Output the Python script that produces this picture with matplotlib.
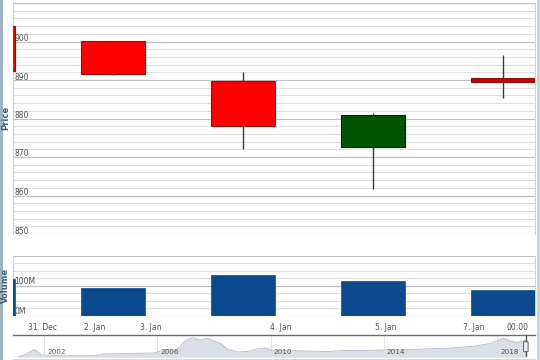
import matplotlib
matplotlib.use("Agg")
import matplotlib.pyplot as plt
from matplotlib.patches import Rectangle, FancyBboxPatch
from matplotlib.transforms import blended_transform_factory, offset_copy
import numpy as np

# ---------------- data ----------------
candle_idx = [0, 1, 2, 3, 4]
opens  = [903.9, 900.0, 889.7, 872.5, 890.5]
highs  = [903.9, 900.0, 892.0, 881.5, 896.6]
lows   = [892.3, 891.3, 872.0, 861.8, 885.2]
closes = [892.3, 891.6, 878.1, 880.8, 889.6]
volumes_m = [123, 92, 135, 117, 86.5]

x_tick_pos = [0.458, 0.862, 1.292, 2.292, 3.10, 3.773, 4.108]
x_tick_labels = ["31. Dec", "2. Jan", "3. Jan", "4. Jan", "5. Jan", "7. Jan", "00:00"]

price_ticks = [850, 860, 870, 880, 890, 900]
volume_ticks = [0, 100]
volume_tick_labels = ["0M", "100M"]

nav_years = [2000.90, 2001.05, 2001.35, 2001.66, 2001.90, 2002.27, 2003.0, 2003.86, 2004.10,
             2005.0, 2005.93, 2006.29, 2006.66, 2007.02, 2007.27, 2007.51, 2007.76,
             2008.00, 2008.24, 2008.49, 2008.85, 2009.22, 2009.46, 2009.83, 2010.07,
             2010.80, 2011.4, 2012.02, 2012.6, 2013.24, 2013.8, 2014.46, 2015.1, 2015.68,
             2016.3, 2016.89, 2017.30, 2017.75, 2018.23, 2018.48, 2018.72, 2018.96, 2019.02]
nav_values = [40, 40, 170, 395, 150, 115, 110, 115, 190,
              210, 240, 395, 350, 815, 925, 815, 895,
              770, 660, 395, 275, 305, 395, 460, 335,
              335, 320, 305, 340, 350, 360, 380, 400, 425,
              450, 505, 560, 660, 895, 770, 705, 815, 780]
nav_year_ticks = [2002, 2006, 2010, 2014, 2018]

# ---------------- layout ----------------
W, H = 540, 360
fig = plt.figure(figsize=(5.4, 3.6), dpi=100)
fig.patch.set_facecolor("white")

def fbox(left, top, right, bottom):
    return [left / W, 1 - bottom / H, (right - left) / W, (bottom - top) / H]

# outer frame strips (drawn first, behind everything)
fig.patches.append(Rectangle((0, 0), 2.5 / W, 1, transform=fig.transFigure,
                             facecolor="#9fb2c6", edgecolor="none", zorder=0))
fig.patches.append(Rectangle(((W - 3.5) / W, 0), 3.5 / W, 1, transform=fig.transFigure,
                             facecolor="#c9d5e2", edgecolor="none", zorder=0))

ax_p = fig.add_axes(fbox(13, 3, 535, 234))
ax_v = fig.add_axes(fbox(13, 255.7, 535, 315.7))
ax_n = fig.add_axes(fbox(13, 335, 535, 357.3))

xmin, xmax = 30 / 130, 552 / 130
major_c = "#c0c0c0"
minor_c = "#e0e0e0"
txt_c = "#505050"

for ax in (ax_p, ax_v):
    ax.set_xlim(xmin, xmax)
    for s in ("top", "bottom"):
        ax.spines[s].set_visible(False)
    for s in ("left", "right"):
        ax.spines[s].set_color("#d0d0d0")
        ax.spines[s].set_linewidth(0.8)
    ax.tick_params(axis="y", left=False, labelleft=False, which="both")
    ax.set_axisbelow(True)

# ---- price pane ----
ax_p.set_ylim(850, 910)
ax_p.set_yticks(price_ticks + [910])
ax_p.set_yticks(np.arange(850, 911, 2), minor=True)
ax_p.grid(axis="y", which="major", color=major_c, lw=0.9)
ax_p.grid(axis="y", which="minor", color=minor_c, lw=0.8)
ax_p.tick_params(axis="x", bottom=False, labelbottom=False)
tr = blended_transform_factory(ax_p.transAxes, ax_p.transData)
for t in price_ticks:
    ax_p.text(0.002, t, str(t), transform=offset_copy(tr, fig=fig, x=0, y=3, units="dots"),
              fontsize=5.5, color=txt_c, ha="left", va="center", zorder=1)

bw = 0.485
for i, o, h, l, c in zip(candle_idx, opens, highs, lows, closes):
    up = c >= o
    face = "#005500" if up else "#ff0000"
    edge = "#0a1a0a" if up else "#8a1010"
    if abs(c - o) < 1.5:
        face = "#d00000"
    ax_p.vlines(i, l, h, color="#3a3a3a", lw=1.0, zorder=2)
    ax_p.add_patch(Rectangle((i - bw / 2, min(o, c)), bw, abs(c - o),
                             facecolor=face, edgecolor=edge, lw=0.8, zorder=3))

fig.text(5.5 / W, 1 - 118 / H, "Price", rotation=90, fontsize=6,
         fontweight="bold", color="#3d5a78", ha="center", va="center", zorder=5)

# ---- volume pane ----
ax_v.set_ylim(0, 200)
ax_v.set_yticks([0, 100, 200])
ax_v.set_yticks(np.arange(0, 201, 25), minor=True)
ax_v.grid(axis="y", which="major", color=major_c, lw=0.9)
ax_v.grid(axis="y", which="minor", color=minor_c, lw=0.8)
ax_v.bar(candle_idx, volumes_m, width=bw, color="#0c4a8e", edgecolor="#0c4a8e", lw=0.5, zorder=3)
trv = blended_transform_factory(ax_v.transAxes, ax_v.transData)
for t, lab in zip(volume_ticks, volume_tick_labels):
    ax_v.text(0.002, t, lab, transform=offset_copy(trv, fig=fig, x=0, y=4, units="dots"),
              fontsize=5.5, color=txt_c, ha="left", va="center", zorder=4)
ax_v.set_xticks(x_tick_pos)
ax_v.set_xticklabels(x_tick_labels, fontsize=5.5, color=txt_c)
ax_v.tick_params(axis="x", length=0, pad=5)
fig.text(5.5 / W, 1 - 285 / H, "Volume", rotation=90, fontsize=6,
         fontweight="bold", color="#3d5a78", ha="center", va="center", zorder=5)

# ---- navigator ----
px_per_year = (497 - 44) / 16
n_lo = 2002 - (44 - 13) / px_per_year
n_hi = 2018 + (535 - 497) / px_per_year
ax_n.set_xlim(n_lo, n_hi)
ax_n.set_ylim(40, 1043)
for s in ax_n.spines.values():
    s.set_visible(False)
ax_n.tick_params(left=False, labelleft=False, bottom=False, labelbottom=False)
for yr in nav_year_ticks:
    ax_n.axvline(yr, color="#e4e4e4", lw=0.8, zorder=0)
    ax_n.text(yr + 3 / px_per_year, 0.22, str(yr),
              transform=blended_transform_factory(ax_n.transData, ax_n.transAxes),
              fontsize=5.2, color="#555555", ha="left", va="center", zorder=3)
ax_n.fill_between(nav_years, 40, nav_values, color="#d9dee7", lw=0, zorder=1)
ax_n.plot(nav_years, nav_values, color="#b0b8c8", lw=0.6, zorder=2)
ax_n.axhline(1043, color="#6a6a6a", lw=1.0, zorder=4, clip_on=False)
end_yr = nav_years[-1]
ax_n.axvline(end_yr, color="#555555", lw=1.0, zorder=4)
ax_n.add_patch(FancyBboxPatch((end_yr - 2.2 / px_per_year, 0.25), 4.4 / px_per_year, 0.45,
                              boxstyle="round,pad=0,rounding_size=0.03",
                              transform=blended_transform_factory(ax_n.transData, ax_n.transAxes),
                              facecolor="#f2f2f2", edgecolor="#555555", lw=0.7, zorder=5))
# scrollbar top edge
fig.add_artist(plt.Line2D([13 / W, 535 / W], [1 - 358.5 / H, 1 - 358.5 / H],
                          transform=fig.transFigure, color="#d8d8d8", lw=0.8))

fig.savefig("out.png", dpi=100, facecolor="white")
